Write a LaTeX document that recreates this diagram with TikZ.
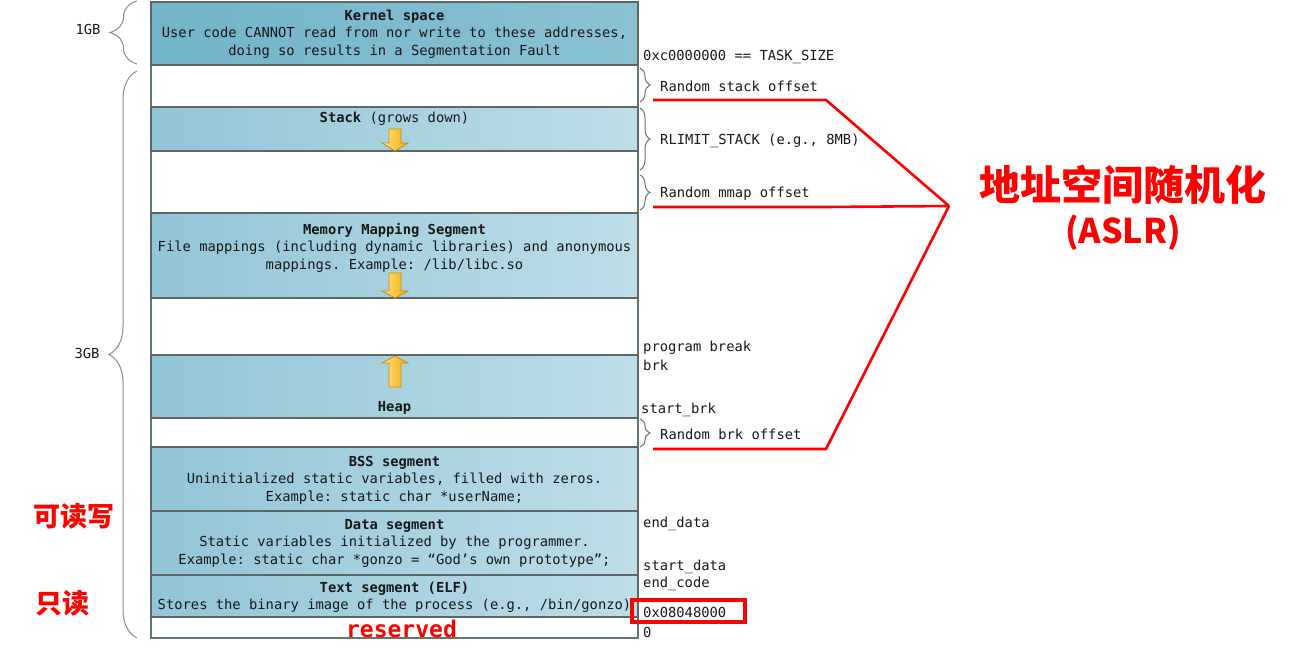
\documentclass[tikz,border=0pt]{standalone}
\usepackage{fontspec}
\usetikzlibrary{decorations.pathreplacing}
\newfontfamily\monofont{DejaVu Sans Mono}
\newfontfamily\cjkfont{Noto Sans CJK SC}
\frenchspacing
\definecolor{segline}{HTML}{5E6669}
\definecolor{gapline}{HTML}{5F7A68}
\definecolor{segA}{HTML}{92C5D6}
\definecolor{segB}{HTML}{BEDDE7}
\definecolor{kerA}{HTML}{72B4C9}
\definecolor{kerB}{HTML}{8AC2D2}
\definecolor{arrA}{HTML}{FFE68A}
\definecolor{arrB}{HTML}{F6A800}
\definecolor{arrline}{HTML}{C98A10}
\definecolor{aslrred}{HTML}{FF0000}
\definecolor{bracegray}{HTML}{8A8A8A}
\definecolor{bracedark}{HTML}{6E6E6E}
\begin{document}
\begin{tikzpicture}[x=1pt,y=-1pt,
  box/.style={anchor=north west, minimum width=487pt, inner sep=0pt, outer sep=0pt, line width=1.2pt},
  seg/.style={box, draw=segline, left color=segA, right color=segB},
  kseg/.style={box, draw=segline, left color=kerA, right color=kerB},
  gapbox/.style={box, draw=gapline, fill=white},
  mono/.style={font=\monofont\fontsize{13.8}{17.5}\selectfont, inner sep=0pt, text=black!90},
  side/.style={mono, anchor=west},
  growarrow/.style={draw=arrline, line width=0.8pt, left color=arrA, right color=arrB},
  lbrace/.style={draw=bracegray, line width=1pt, decorate, decoration={brace, amplitude=#1}},
  rbrace/.style={draw=bracedark, line width=1pt, decorate, decoration={brace, amplitude=10pt}},
  aslr/.style={draw=aslrred, line width=2.6pt},
  redtext/.style={text=aslrred, inner sep=0pt}
]
\useasboundingbox (0,0) rectangle (1296,661);

% white gaps
\node[gapbox, minimum height=42pt] (gapA) at (151,65) {};
\node[gapbox, minimum height=62pt] (gapB) at (151,151) {};
\node[gapbox, minimum height=57pt] (gapC) at (151,298) {};
\node[gapbox, minimum height=29pt] (gapD) at (151,418) {};
\node[gapbox, minimum height=21pt] (resv) at (151,617) {};

% segments
\node[kseg, minimum height=63pt] (kernel) at (151,2) {};
\node[seg, minimum height=44pt] (stack) at (151,107) {};
\node[seg, minimum height=85pt] (mms) at (151,213) {};
\node[seg, minimum height=63pt] (heap) at (151,355) {};
\node[seg, minimum height=64pt] (bss) at (151,447) {};
\node[seg, minimum height=64pt] (data) at (151,511) {};
\node[seg, minimum height=42pt] (textseg) at (151,575) {};

% segment texts
\node[mono, align=center] (kerneltxt) at (394.5,34) {{\bfseries Kernel space}\\User code CANNOT read from nor write to these addresses,\\doing so results in a Segmentation Fault};
\node[mono] (stacktxt) at (394.5,119) {{\bfseries Stack} (grows down)};
\node[mono, align=center] (mmstxt) at (394.5,247.5) {{\bfseries Memory Mapping Segment}\\File mappings (including dynamic libraries) and anonymous\\mappings. Example: /lib/libc.so};
\node[mono] (heaptxt) at (394.5,407.5) {\bfseries Heap};
\node[mono, align=center] (bsstxt) at (394.5,480) {{\bfseries BSS segment}\\Uninitialized static variables, filled with zeros.\\Example: static char *userName;};
\node[mono, align=center] (datatxt) at (394.5,543) {{\bfseries Data segment}\\Static variables initialized by the programmer.\\Example: static char *gonzo = “God’s own prototype”;};
\node[mono, align=center] (texttxt) at (394.5,597) {{\bfseries Text segment (ELF)}\\Stores the binary image of the process (e.g., /bin/gonzo)};
\node[redtext, font=\monofont\bfseries\fontsize{23}{26}\selectfont] (resvtxt) at (401.5,629) {reserved};

% yellow arrows
\draw[growarrow] (389,129) -- (401,129) -- (401,143) -- (408,143) -- (395,151) -- (382,143) -- (389,143) -- cycle;
\draw[growarrow] (389,273) -- (401,273) -- (401,291) -- (408,291) -- (395,298) -- (382,291) -- (389,291) -- cycle;
\draw[growarrow] (389,387) -- (401,387) -- (401,363) -- (408,363) -- (395,356) -- (382,363) -- (389,363) -- cycle;

% left braces
\draw[lbrace=27pt] (137,64) -- (137,1);
\draw[lbrace=28pt] (137,638) -- (137,71);
\node[mono] (gb1) at (88,29) {1GB};
\node[mono] (gb3) at (87,353) {3GB};

% right braces
\draw[rbrace] (640,68) -- (640,102);
\draw[rbrace] (640,108) -- (640,170);
\draw[rbrace] (640,175) -- (640,210);
\draw[rbrace] (640,419) -- (640,447);

% right labels
\node[side] (tasksize) at (643,57.5) {0xc0000000 == TASK\_SIZE};
\node[side] (rstack) at (660,86) {Random stack offset};
\node[side] (rlimit) at (660,140.5) {RLIMIT\_STACK (e.g., 8MB)};
\node[side] (rmmap) at (660,193.5) {Random mmap offset};
\node[side] (pbreak) at (643,347.5) {program break};
\node[side] (brk) at (643,365) {brk};
\node[side] (startbrk) at (641,409.5) {start\_brk};
\node[side] (rbrk) at (660,434) {Random brk offset};
\node[side] (enddata) at (643,523.5) {end\_data};
\node[side] (startdata) at (643,567) {start\_data};
\node[side] (endcode) at (643,583.5) {end\_code};
\node[side] (textaddr) at (643,612) {0x08048000};
\node[side] (zero) at (643,632.5) {0};
\draw[draw=aslrred, line width=3.5pt] (632,600) rectangle (745,622);

% ASLR connectors
\coordinate (rs1) at (653,100);
\coordinate (rs2) at (826,100);
\coordinate (rm1) at (653,207);
\coordinate (rm2) at (826,207);
\coordinate (rb1) at (653,449);
\coordinate (rb2) at (826,449);
\coordinate (apex) at (949,206);
\draw[aslr] (rs1) -- (rs2) -- (apex);
\draw[aslr] (rm1) -- (rm2) -- (apex);
\draw[aslr] (rb1) -- (rb2) -- (apex);

\node[redtext, font=\cjkfont\bfseries\fontsize{41}{48}\selectfont] (aslrcn) at (1123,185) {地址空间随机化};
\node[redtext, font=\cjkfont\bfseries\fontsize{34}{40}\selectfont] (aslren) at (1123,233) {(ASLR)};

\node[redtext, font=\cjkfont\bfseries\fontsize{27}{32}\selectfont] (rw) at (74,516) {可读写};
\node[redtext, font=\cjkfont\bfseries\fontsize{27}{32}\selectfont] (ro) at (62,603) {只读};
\end{tikzpicture}
\end{document}
